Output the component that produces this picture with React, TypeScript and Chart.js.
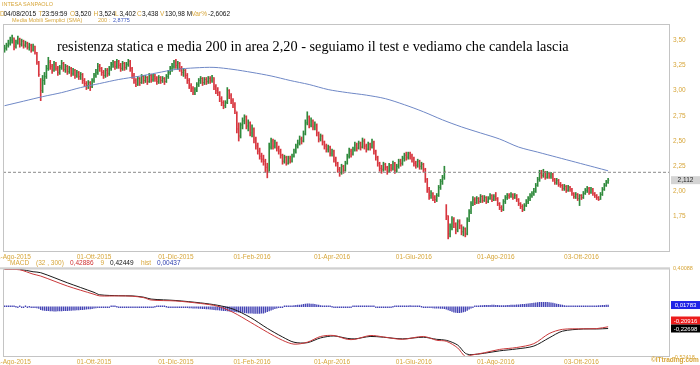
import { useEffect, useRef } from "react";
import { Chart, registerables } from "chart.js";
Chart.register(...registerables);

// ---------- DATA ----------
const FIRST_OPEN = 3.4;
const CLOSE = [
  3.42, 3.45, 3.47, 3.5, 3.52, 3.438, 3.48, 3.51, 3.46, 3.49,
  3.45, 3.47, 3.43, 3.45, 3.4, 3.44, 3.38, 3.28, 3.16, 3.0,
  3.1, 3.14, 3.22, 3.28, 3.24, 3.2, 3.26, 3.22, 3.18, 3.23,
  3.27, 3.21, 3.24, 3.19, 3.22, 3.17, 3.2, 3.15, 3.18, 3.14,
  3.16, 3.1, 3.07, 3.05, 3.08, 3.04, 3.1, 3.15, 3.18, 3.24,
  3.22, 3.18, 3.15, 3.2, 3.17, 3.22, 3.26, 3.28, 3.24, 3.29,
  3.25, 3.22, 3.27, 3.23, 3.26, 3.29, 3.22, 3.15, 3.1, 3.06,
  3.12, 3.08, 3.14, 3.1, 3.13, 3.09, 3.15, 3.11, 3.14, 3.12,
  3.09, 3.13, 3.1, 3.12, 3.09, 3.14, 3.18, 3.22, 3.24, 3.28,
  3.25, 3.27, 3.22, 3.18, 3.2, 3.15, 3.1, 3.05, 3.02, 2.98,
  3.01, 3.06, 3.1, 3.12, 3.08, 3.11, 3.09, 3.12, 3.1, 3.13,
  3.04, 3.0, 2.98, 2.92, 2.88, 2.85, 2.88, 3.0, 2.95, 2.9,
  2.86, 2.8, 2.62, 2.55, 2.66, 2.7, 2.74, 2.65, 2.68, 2.58,
  2.62, 2.52, 2.45, 2.4, 2.35, 2.32, 2.3, 2.24, 2.2, 2.44,
  2.5, 2.45, 2.48, 2.43, 2.4, 2.36, 2.3, 2.34, 2.28, 2.33,
  2.3, 2.35, 2.4, 2.45, 2.48, 2.52, 2.5, 2.57, 2.68, 2.74,
  2.66, 2.7, 2.64, 2.66, 2.58, 2.52, 2.55, 2.49, 2.45, 2.42,
  2.44, 2.38, 2.4, 2.32, 2.28, 2.22, 2.19, 2.25, 2.21, 2.28,
  2.35, 2.4, 2.37, 2.42, 2.46, 2.43, 2.48, 2.44, 2.5, 2.45,
  2.42, 2.47, 2.44, 2.49, 2.4, 2.34, 2.28, 2.23, 2.22, 2.27,
  2.24, 2.2, 2.26, 2.23, 2.28, 2.21, 2.25, 2.3, 2.28, 2.33,
  2.36, 2.34, 2.38, 2.35, 2.32, 2.28, 2.26, 2.3, 2.25, 2.27,
  2.22, 2.12, 2.02, 1.96, 1.98, 1.94, 1.92, 1.96, 2.04, 2.1,
  2.14, 2.2, 1.76, 1.58, 1.65, 1.72, 1.68, 1.62, 1.7, 1.66,
  1.6, 1.63, 1.58, 1.72, 1.8, 1.88, 1.92, 1.89, 1.93, 1.9,
  1.95, 1.91, 1.94, 1.9, 1.93, 1.96, 1.92, 1.95, 1.93, 1.88,
  1.84, 1.82, 1.9, 1.94, 1.96, 1.95, 1.97, 1.94, 1.96, 1.92,
  1.88, 1.85, 1.82, 1.86, 1.9, 1.93, 1.96, 1.98, 2.0, 2.06,
  2.12, 2.18, 2.16, 2.19, 2.14, 2.18, 2.15, 2.17, 2.12, 2.09,
  2.11, 2.07, 2.06, 2.03, 2.05, 2.01, 2.04, 2.02, 1.98, 1.95,
  1.97, 1.93, 1.96, 1.94, 1.98, 2.01, 2.03, 1.99, 2.02, 1.98,
  1.96, 1.94, 1.92, 1.97, 2.02, 2.06, 2.09, 2.112,
];
const HIGH = [
  3.45, 3.47, 3.5, 3.53, 3.55, 3.524, 3.5, 3.54, 3.52, 3.51,
  3.5, 3.49, 3.48, 3.47, 3.46, 3.46, 3.44, 3.38, 3.29, 3.12,
  3.15, 3.18, 3.25, 3.33, 3.3, 3.26, 3.29, 3.28, 3.24, 3.25,
  3.3, 3.28, 3.26, 3.25, 3.24, 3.23, 3.22, 3.21, 3.2, 3.19,
  3.18, 3.17, 3.12, 3.09, 3.1, 3.09, 3.12, 3.17, 3.21, 3.27,
  3.26, 3.23, 3.2, 3.22, 3.22, 3.24, 3.28, 3.3, 3.29, 3.31,
  3.3, 3.27, 3.29, 3.28, 3.28, 3.31, 3.3, 3.23, 3.17, 3.12,
  3.14, 3.13, 3.16, 3.15, 3.15, 3.14, 3.17, 3.16, 3.16, 3.16,
  3.14, 3.15, 3.14, 3.14, 3.13, 3.16, 3.2, 3.24, 3.27, 3.3,
  3.31, 3.29, 3.28, 3.24, 3.22, 3.21, 3.17, 3.12, 3.07, 3.04,
  3.03, 3.08, 3.12, 3.14, 3.13, 3.13, 3.13, 3.14, 3.14, 3.15,
  3.13, 3.06, 3.03, 2.99, 2.94, 2.9, 2.9, 3.03, 3.01, 2.97,
  2.92, 2.88, 2.79, 2.68, 2.68, 2.73, 2.76, 2.75, 2.71, 2.69,
  2.66, 2.63, 2.54, 2.48, 2.43, 2.38, 2.36, 2.32, 2.28, 2.48,
  2.53, 2.52, 2.51, 2.49, 2.45, 2.42, 2.37, 2.36, 2.35, 2.35,
  2.35, 2.37, 2.42, 2.47, 2.51, 2.55, 2.54, 2.6, 2.71, 2.79,
  2.75, 2.73, 2.71, 2.69, 2.67, 2.59, 2.57, 2.56, 2.5, 2.47,
  2.46, 2.45, 2.42, 2.41, 2.34, 2.29, 2.24, 2.27, 2.26, 2.3,
  2.37, 2.43, 2.42, 2.44, 2.49, 2.48, 2.5, 2.49, 2.53, 2.52,
  2.47, 2.49, 2.48, 2.52, 2.5, 2.41, 2.35, 2.29, 2.26, 2.29,
  2.28, 2.25, 2.28, 2.27, 2.3, 2.29, 2.27, 2.32, 2.32, 2.35,
  2.38, 2.39, 2.39, 2.39, 2.37, 2.34, 2.3, 2.32, 2.31, 2.29,
  2.28, 2.23, 2.13, 2.04, 2.01, 1.99, 1.96, 1.98, 2.06, 2.12,
  2.16, 2.25, 1.87, 1.76, 1.68, 1.75, 1.74, 1.69, 1.72, 1.72,
  1.67, 1.65, 1.64, 1.74, 1.82, 1.9, 1.95, 1.94, 1.95, 1.94,
  1.97, 1.96, 1.96, 1.95, 1.95, 1.98, 1.97, 1.97, 1.99, 1.94,
  1.89, 1.86, 1.92, 1.96, 1.98, 1.98, 1.99, 1.98, 1.98, 1.97,
  1.93, 1.89, 1.87, 1.88, 1.92, 1.95, 1.98, 2.0, 2.03, 2.08,
  2.14, 2.21, 2.21, 2.22, 2.2, 2.2, 2.19, 2.19, 2.18, 2.13,
  2.13, 2.12, 2.09, 2.07, 2.07, 2.06, 2.06, 2.05, 2.03, 1.99,
  1.99, 1.98, 1.97, 1.97, 2.0, 2.03, 2.05, 2.04, 2.04, 2.03,
  1.99, 1.97, 1.95, 1.99, 2.04, 2.08, 2.11, 2.13,
];
const LOW = [
  3.38, 3.4, 3.43, 3.45, 3.47, 3.402, 3.42, 3.46, 3.43, 3.44,
  3.42, 3.43, 3.41, 3.4, 3.38, 3.39, 3.36, 3.26, 3.14, 2.9,
  2.98, 3.06, 3.12, 3.2, 3.21, 3.17, 3.19, 3.2, 3.15, 3.16,
  3.21, 3.19, 3.18, 3.16, 3.17, 3.14, 3.15, 3.12, 3.13, 3.11,
  3.11, 3.07, 3.04, 3.01, 3.02, 3.0, 3.03, 3.08, 3.13, 3.16,
  3.19, 3.15, 3.12, 3.13, 3.14, 3.15, 3.2, 3.23, 3.21, 3.22,
  3.22, 3.19, 3.2, 3.2, 3.21, 3.24, 3.19, 3.12, 3.07, 3.04,
  3.05, 3.05, 3.07, 3.07, 3.08, 3.06, 3.08, 3.08, 3.09, 3.09,
  3.06, 3.07, 3.07, 3.08, 3.06, 3.08, 3.12, 3.16, 3.19, 3.22,
  3.22, 3.21, 3.19, 3.15, 3.14, 3.12, 3.07, 3.02, 2.99, 2.96,
  2.96, 2.99, 3.04, 3.07, 3.05, 3.06, 3.06, 3.07, 3.07, 3.08,
  3.01, 2.97, 2.95, 2.89, 2.85, 2.82, 2.83, 2.87, 2.92, 2.87,
  2.83, 2.77, 2.58, 2.5, 2.53, 2.62, 2.67, 2.62, 2.6, 2.55,
  2.54, 2.48, 2.42, 2.37, 2.32, 2.29, 2.26, 2.19, 2.135, 2.2,
  2.42, 2.42, 2.43, 2.4, 2.37, 2.33, 2.27, 2.28, 2.26, 2.27,
  2.28, 2.29, 2.34, 2.38, 2.43, 2.46, 2.47, 2.49, 2.56, 2.66,
  2.63, 2.64, 2.61, 2.61, 2.55, 2.49, 2.5, 2.46, 2.42, 2.39,
  2.39, 2.35, 2.35, 2.29, 2.25, 2.19, 2.15, 2.17, 2.18, 2.2,
  2.27, 2.33, 2.34, 2.36, 2.4, 2.4, 2.42, 2.41, 2.43, 2.42,
  2.39, 2.41, 2.41, 2.43, 2.37, 2.31, 2.25, 2.2, 2.18, 2.2,
  2.21, 2.17, 2.19, 2.2, 2.21, 2.18, 2.19, 2.23, 2.25, 2.26,
  2.3, 2.31, 2.32, 2.32, 2.29, 2.25, 2.23, 2.24, 2.22, 2.22,
  2.19, 2.09, 1.99, 1.92, 1.93, 1.91, 1.89, 1.9, 1.95, 2.02,
  2.07, 2.12, 1.72, 1.53, 1.55, 1.62, 1.64, 1.58, 1.6, 1.63,
  1.57, 1.56, 1.55, 1.57, 1.7, 1.78, 1.86, 1.87, 1.88, 1.88,
  1.89, 1.89, 1.9, 1.88, 1.89, 1.92, 1.9, 1.91, 1.91, 1.86,
  1.82, 1.8, 1.81, 1.88, 1.92, 1.93, 1.94, 1.92, 1.93, 1.9,
  1.86, 1.83, 1.8, 1.81, 1.85, 1.88, 1.91, 1.94, 1.96, 1.99,
  2.05, 2.1, 2.13, 2.14, 2.12, 2.13, 2.13, 2.13, 2.1, 2.07,
  2.07, 2.05, 2.04, 2.01, 2.01, 1.99, 2.0, 2.0, 1.96, 1.93,
  1.93, 1.91, 1.86, 1.92, 1.93, 1.97, 1.99, 1.97, 1.98, 1.96,
  1.94, 1.92, 1.91, 1.92, 1.96, 2.01, 2.05, 2.08,
];

const SMA_IDX = [0, 10, 20, 30, 40, 50, 60, 70, 80, 90, 100, 110, 120, 130, 140, 150, 160, 170, 180, 190, 200, 210, 220, 230, 240, 250, 260, 270, 280, 290, 300, 310, 317];
const SMA_VAL = [2.85, 2.895, 2.94, 2.98, 3.03, 3.07, 3.11, 3.14, 3.175, 3.21, 3.225, 3.23, 3.21, 3.18, 3.145, 3.1, 3.06, 3.01, 2.98, 2.955, 2.92, 2.86, 2.79, 2.71, 2.64, 2.58, 2.52, 2.44, 2.39, 2.34, 2.29, 2.24, 2.205];

const RESISTANCE = 2.19;
const PRICE_MIN = 1.4;
const PRICE_MAX = 3.66;
const PRICE_TICKS = [1.75, 2.0, 2.25, 2.5, 2.75, 3.0, 3.25, 3.5];

const X_MIN = -0.8;
const X_MAX = 349.5;
const DATE_IDX = [4, 47, 90, 130, 172, 215, 258, 303];
const DATE_LABELS = ["01-Ago-2015", "01-Ott-2015", "01-Dic-2015", "01-Feb-2016", "01-Apr-2016", "01-Giu-2016", "01-Ago-2016", "03-Ott-2016"];

const MACD_IDX = [0, 8, 15, 19, 33, 47, 50, 60, 67, 73, 77, 90, 103, 112, 120, 129, 138, 146, 152, 159, 166, 173, 180, 184, 192, 199, 209, 220, 227, 232, 238, 242, 245, 252, 260, 269, 278, 286, 293, 304, 311, 317];
const MACD_VAL = [0.39, 0.385, 0.34, 0.32, 0.216, 0.13, 0.113, 0.113, 0.11, 0.095, 0.07, 0.06, 0.034, 0.005, -0.058, -0.16, -0.265, -0.35, -0.39, -0.37, -0.31, -0.3, -0.34, -0.34, -0.3, -0.315, -0.34, -0.31, -0.35, -0.36, -0.43, -0.52, -0.505, -0.48, -0.445, -0.425, -0.385, -0.28, -0.236, -0.23, -0.228, -0.20916];
const SIGNAL_VAL = [0.392, 0.39, 0.365, 0.355, 0.25, 0.15, 0.125, 0.115, 0.113, 0.1, 0.08, 0.065, 0.04, 0.015, -0.024, -0.11, -0.225, -0.315, -0.37, -0.375, -0.325, -0.305, -0.33, -0.335, -0.31, -0.318, -0.335, -0.318, -0.34, -0.35, -0.4, -0.485, -0.5, -0.485, -0.46, -0.44, -0.41, -0.325, -0.255, -0.232, -0.232, -0.22698];
const HIST = [
  0.002, 0.003, 0.002, 0.001, 0.002, 0.001, 0, -0.001, 0.001, -0.002,
  -0.001, 0.001, -0.002, 0, -0.002, -0.004, -0.008, -0.012, -0.018, -0.03,
  -0.035, -0.038, -0.04, -0.042, -0.043, -0.044, -0.045, -0.045, -0.044, -0.043,
  -0.043, -0.042, -0.041, -0.04, -0.039, -0.038, -0.036, -0.035, -0.034, -0.033,
  -0.031, -0.03, -0.028, -0.026, -0.024, -0.022, -0.019, -0.016, -0.013, -0.01,
  -0.008, -0.006, -0.004, -0.003, -0.002, -0.001, 0.001, 0.002, 0.001, 0,
  -0.001, -0.002, -0.003, -0.004, -0.005, -0.004, -0.003, -0.002, -0.002, -0.003,
  -0.004, -0.005, -0.006, -0.006, -0.005, -0.004, -0.003, -0.002, -0.001, 0,
  0.001, 0.001, 0.002, 0.002, 0.001, 0, -0.001, -0.002, -0.003, -0.004,
  -0.005, -0.006, -0.007, -0.008, -0.009, -0.01, -0.011, -0.012, -0.013, -0.014,
  -0.015, -0.016, -0.017, -0.018, -0.019, -0.02, -0.022, -0.024, -0.026, -0.028,
  -0.03, -0.032, -0.034, -0.036, -0.038, -0.04, -0.042, -0.044, -0.046, -0.048,
  -0.05, -0.052, -0.054, -0.056, -0.058, -0.06, -0.062, -0.064, -0.066, -0.067,
  -0.068, -0.069, -0.07, -0.07, -0.069, -0.068, -0.066, -0.06, -0.052, -0.044,
  -0.036, -0.028, -0.02, -0.014, -0.008, -0.004, -0.001, 0.002, 0.004, 0.006,
  0.008, 0.01, 0.012, 0.014, 0.016, 0.018, 0.02, 0.024, 0.027, 0.03,
  0.03, 0.029, 0.027, 0.024, 0.02, 0.016, 0.012, 0.009, 0.006, 0.004,
  0.002, 0.001, 0, -0.001, -0.002, -0.004, -0.006, -0.008, -0.008, -0.007,
  -0.005, -0.003, -0.001, 0.001, 0.003, 0.005, 0.007, 0.009, 0.01, 0.01,
  0.009, 0.007, 0.005, 0.003, 0.001, -0.001, -0.003, -0.004, -0.005, -0.005,
  -0.004, -0.003, -0.002, -0.001, 0, 0.001, 0.002, 0.003, 0.004, 0.005,
  0.006, 0.008, 0.01, 0.011, 0.01, 0.008, 0.006, 0.004, 0.002, 0,
  -0.002, -0.004, -0.006, -0.008, -0.01, -0.012, -0.014, -0.015, -0.016, -0.017,
  -0.018, -0.02, -0.026, -0.034, -0.042, -0.05, -0.056, -0.06, -0.062, -0.062,
  -0.06, -0.055, -0.048, -0.038, -0.026, -0.014, -0.004, 0.004, 0.008, 0.01,
  0.012, 0.013, 0.014, 0.014, 0.015, 0.015, 0.016, 0.016, 0.015, 0.014,
  0.013, 0.012, 0.012, 0.013, 0.014, 0.015, 0.016, 0.017, 0.018, 0.019,
  0.02, 0.022, 0.024, 0.026, 0.028, 0.03, 0.033, 0.036, 0.039, 0.042,
  0.044, 0.046, 0.047, 0.047, 0.046, 0.045, 0.043, 0.04, 0.037, 0.033,
  0.029, 0.025, 0.021, 0.017, 0.013, 0.01, 0.008, 0.006, 0.004, 0.003,
  0.002, 0.001, 0.001, 0.002, 0.002, 0.003, 0.004, 0.005, 0.006, 0.007,
  0.008, 0.01, 0.011, 0.013, 0.014, 0.015, 0.017, 0.01783,
];
const MACD_MAX = 0.40088;
const MACD_MIN = -0.52418;

// ---------- STYLE ----------
const GOLD = "#d7a63a";
const UP = "#2f8a3c";
const DOWN = "#d8363f";
const FRAME = "#c4c4c4";
const FONT = "Liberation Sans";
const CSSFONT = '"Liberation Sans", Arial, sans-serif';

const fmt = (v: number, d: number) => v.toFixed(d).replace(".", ",");

const xAxis = (h: number) => ({
  type: "linear",
  min: X_MIN,
  max: X_MAX,
  offset: false,
  grid: { display: false, drawTicks: false, tickLength: 0 },
  border: { display: false },
  ticks: {
    autoSkip: false,
    maxRotation: 0,
    minRotation: 0,
    padding: 1.5,
    color: GOLD,
    font: { size: 6.5, family: FONT },
    callback: (v: any, i: number) => DATE_LABELS[i] ?? "",
  },
  afterBuildTicks: (s: any) => {
    s.ticks = DATE_IDX.map((v) => ({ value: v }));
  },
  afterFit: (s: any) => {
    s.height = h;
    s.paddingLeft = 0;
    s.paddingRight = 0;
  },
});

const framePlugin = (thickTop: boolean) => ({
  id: "frame",
  afterDraw(chart: any) {
    const { ctx, chartArea: a } = chart;
    ctx.save();
    ctx.strokeStyle = FRAME;
    ctx.lineWidth = 1;
    ctx.strokeRect(a.left + 0.5, a.top + 0.5, a.right - a.left - 1, a.bottom - a.top - 1);
    if (thickTop) {
      ctx.fillStyle = "#d0d0d0";
      ctx.fillRect(0, a.top - 1, a.right, 2);
    }
    ctx.restore();
  },
});

export default function App() {
  const priceRef = useRef<HTMLCanvasElement>(null);
  const macdRef = useRef<HTMLCanvasElement>(null);

  useEffect(() => {
    document.body.style.margin = "0";
    const N = CLOSE.length;
    const OPEN = CLOSE.map((c, i) => (i === 0 ? FIRST_OPEN : CLOSE[i - 1]));
    const colors = CLOSE.map((c, i) => (c >= OPEN[i] ? UP : DOWN));

    const ohlcTicks = {
      id: "ohlcTicks",
      afterDatasetsDraw(chart: any) {
        const xs = chart.scales.x;
        const ys = chart.scales.y;
        const ctx = chart.ctx;
        ctx.save();
        ctx.globalAlpha = 0.35;
        for (let i = 0; i < N; i++) {
          const x = xs.getPixelForValue(i);
          ctx.fillStyle = colors[i];
          ctx.fillRect(x - 1.5, ys.getPixelForValue(OPEN[i]) - 0.5, 1, 1);
          ctx.fillRect(x + 0.5, ys.getPixelForValue(CLOSE[i]) - 0.5, 1, 1);
        }
        ctx.restore();
      },
    };

    const lastPrice = {
      id: "lastPrice",
      afterDraw(chart: any) {
        const { ctx, chartArea: a } = chart;
        const y = chart.scales.y.getPixelForValue(CLOSE[N - 1]);
        ctx.save();
        ctx.fillStyle = "#d4d4d4";
        ctx.fillRect(a.right + 1, y - 4, 29, 8);
        ctx.fillStyle = "#222";
        ctx.font = `6.5px ${CSSFONT}`;
        ctx.textAlign = "center";
        ctx.textBaseline = "middle";
        ctx.fillText(fmt(CLOSE[N - 1], 3), a.right + 15.5, y + 0.5);
        ctx.restore();
      },
    };

    const price = new Chart(priceRef.current as HTMLCanvasElement, {
      type: "bar",
      data: {
        datasets: [
          {
            type: "line",
            data: [
              { x: X_MIN, y: RESISTANCE },
              { x: X_MAX, y: RESISTANCE },
            ],
            borderColor: "#8a8a8a",
            borderWidth: 1,
            borderDash: [3, 2],
            pointRadius: 0,
            order: 1,
          } as any,
          {
            type: "line",
            data: SMA_IDX.map((x, k) => ({ x, y: SMA_VAL[k] })),
            borderColor: "#6f88c6",
            borderWidth: 1,
            pointRadius: 0,
            tension: 0.3,
            order: 2,
          } as any,
          {
            type: "bar",
            data: CLOSE.map((c, i) => ({ x: i, y: [LOW[i], HIGH[i]] })),
            backgroundColor: colors,
            barThickness: 1,
            order: 3,
          } as any,
        ],
      },
      options: {
        animation: false,
        responsive: false,
        events: [],
        layout: { padding: { left: 3, top: 24, right: 0, bottom: 0 } },
        plugins: { legend: { display: false }, tooltip: { enabled: false } },
        scales: {
          x: xAxis(10) as any,
          y: {
            type: "linear",
            position: "right",
            min: PRICE_MIN,
            max: PRICE_MAX,
            grid: { display: false, drawTicks: false, tickLength: 0 },
            border: { display: false },
            ticks: {
              padding: 3,
              color: GOLD,
              font: { size: 6.5, family: FONT },
              callback: (v: any) => fmt(Number(v), 2),
            },
            afterBuildTicks: (s: any) => {
              s.ticks = PRICE_TICKS.map((v) => ({ value: v }));
            },
            afterFit: (s: any) => {
              s.width = 30;
            },
          } as any,
        },
      },
      plugins: [ohlcTicks, framePlugin(false), lastPrice],
    });

    const boxes = {
      id: "boxes",
      afterDraw(chart: any) {
        const { ctx, chartArea: a } = chart;
        const ys = chart.scales.y;
        const yb = ys.getPixelForValue(SIGNAL_VAL[SIGNAL_VAL.length - 1]);
        let yr = ys.getPixelForValue(MACD_VAL[MACD_VAL.length - 1]);
        if (yr > yb - 8) yr = yb - 8;
        const yh = ys.getPixelForValue(HIST[HIST.length - 1]);
        const box = (y: number, bg: string, t: string) => {
          ctx.fillStyle = bg;
          ctx.fillRect(a.right + 1, y - 4, 29, 8);
          ctx.fillStyle = "#fff";
          ctx.fillText(t, a.right + 15.5, y + 0.5);
        };
        ctx.save();
        ctx.font = `6px ${CSSFONT}`;
        ctx.textAlign = "center";
        ctx.textBaseline = "middle";
        box(yh, "#1f24e6", fmt(HIST[HIST.length - 1], 5));
        box(yr, "#ec1c1c", fmt(MACD_VAL[MACD_VAL.length - 1], 5));
        box(yb, "#000", fmt(SIGNAL_VAL[SIGNAL_VAL.length - 1], 5));
        ctx.restore();
      },
    };

    const macd = new Chart(macdRef.current as HTMLCanvasElement, {
      type: "bar",
      data: {
        datasets: [
          {
            type: "line",
            data: MACD_IDX.map((x, k) => ({ x, y: MACD_VAL[k] })),
            borderColor: "#c9383a",
            borderWidth: 1,
            pointRadius: 0,
            tension: 0.3,
            order: 1,
          } as any,
          {
            type: "line",
            data: MACD_IDX.map((x, k) => ({ x, y: SIGNAL_VAL[k] })),
            borderColor: "#1a1a1a",
            borderWidth: 1,
            pointRadius: 0,
            tension: 0.3,
            order: 2,
          } as any,
          {
            type: "bar",
            data: HIST.map((v, i) => ({ x: i, y: v })),
            backgroundColor: "#4545b5",
            barThickness: 0.7,
            minBarLength: 1,
            order: 3,
          } as any,
        ],
      },
      options: {
        animation: false,
        responsive: false,
        events: [],
        layout: { padding: { left: 3, top: 5, right: 0, bottom: 0 } },
        plugins: { legend: { display: false }, tooltip: { enabled: false } },
        scales: {
          x: xAxis(8) as any,
          y: {
            type: "linear",
            position: "right",
            min: MACD_MIN,
            max: MACD_MAX,
            grid: { display: false, drawTicks: false, tickLength: 0 },
            border: { display: false },
            ticks: {
              padding: 3,
              color: GOLD,
              font: { size: 5.5, family: FONT },
              callback: (v: any) => fmt(Number(v), 5),
            },
            afterBuildTicks: (s: any) => {
              s.ticks = [MACD_MAX, MACD_MIN].map((v) => ({ value: v }));
            },
            afterFit: (s: any) => {
              s.width = 30;
            },
          } as any,
        },
      },
      plugins: [framePlugin(true), boxes],
    });

    return () => {
      price.destroy();
      macd.destroy();
    };
  }, []);

  const small = (left: number, top: number, size: number, color: string, text: string, bold = false) => (
    <span
      style={{
        position: "absolute",
        left,
        top,
        fontSize: size,
        lineHeight: `${size}px`,
        color,
        whiteSpace: "nowrap",
        fontWeight: bold ? 700 : 400,
        fontFamily: CSSFONT,
      }}
    >
      {text}
    </span>
  );

  return (
    <div style={{ position: "relative", width: 700, height: 365, background: "#fff", overflow: "hidden" }}>
      <canvas ref={priceRef} width={700} height={262} style={{ position: "absolute", left: 0, top: 0 }} />
      <canvas ref={macdRef} width={700} height={103} style={{ position: "absolute", left: 0, top: 262 }} />

      {small(2, 1.8, 5.5, GOLD, "INTESA SANPAOLO")}
      {small(0, 10.8, 6.5, GOLD, "D")}
      {small(3.5, 10.8, 6.5, "#111", "04/08/2015")}
      {small(38.5, 10.8, 6.5, GOLD, "T")}
      {small(42, 10.8, 6.5, "#111", "23:59:59")}
      {small(70, 10.8, 6.5, GOLD, "O")}
      {small(75, 10.8, 6.5, "#111", "3,520")}
      {small(93.5, 10.8, 6.5, GOLD, "H")}
      {small(99, 10.8, 6.5, "#111", "3,524")}
      {small(115, 10.8, 6.5, GOLD, "L")}
      {small(119.5, 10.8, 6.5, "#111", "3,402")}
      {small(137, 10.8, 6.5, GOLD, "C")}
      {small(142, 10.8, 6.5, "#111", "3,438")}
      {small(160, 10.8, 6.5, GOLD, "V")}
      {small(165, 10.8, 6.5, "#111", "130,98 M")}
      {small(191.5, 10.8, 6.5, GOLD, "Var%")}
      {small(208, 10.8, 6.5, "#111", "-2,6062")}
      {small(12, 18.3, 5.5, GOLD, "Media Mobili Semplici (SMA)")}
      {small(98, 18.3, 5.5, GOLD, "200")}
      {small(109, 18.3, 5.5, GOLD, ":")}
      {small(113, 18.3, 5.5, "#3a55c0", "2,8775")}

      <div
        style={{
          position: "absolute",
          left: 57,
          top: 39,
          fontFamily: '"Liberation Serif", "Times New Roman", serif',
          fontSize: 14.3,
          lineHeight: "14.3px",
          color: "#000",
          whiteSpace: "nowrap",
        }}
      >
        resistenza statica e media 200 in area 2,20 - seguiamo il test e vediamo che candela lascia
      </div>

      {small(10, 259.8, 6.5, GOLD, "MACD")}
      {small(36, 259.8, 6.5, GOLD, "(32 , 300)")}
      {small(70, 259.8, 6.5, "#d03030", "0,42886")}
      {small(100.5, 259.8, 6.5, GOLD, "9")}
      {small(110, 259.8, 6.5, "#111", "0,42449")}
      {small(141, 259.8, 6.5, GOLD, "hist")}
      {small(157, 259.8, 6.5, "#3040b0", "0,00437")}

      {small(651, 356.5, 6.5, GOLD, "©ITtrading.com", true)}
    </div>
  );
}
